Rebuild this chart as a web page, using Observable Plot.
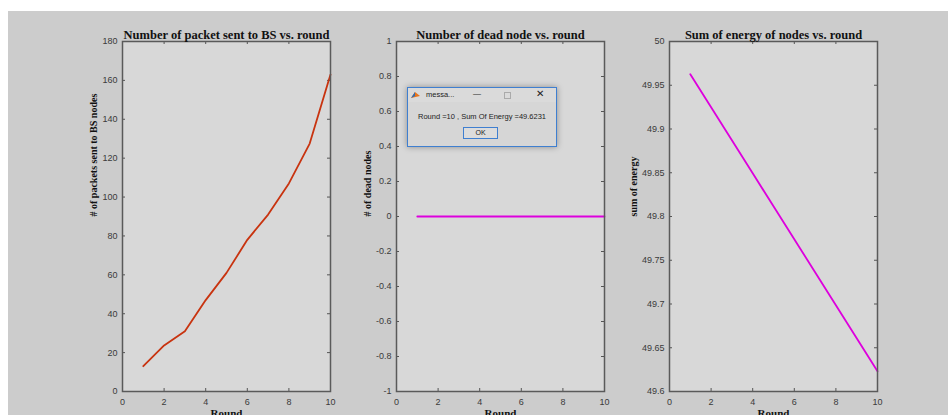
<!DOCTYPE html>
<html>
<head>
<meta charset="utf-8">
<script src="https://cdn.jsdelivr.net/npm/d3@7"></script>
<script src="https://cdn.jsdelivr.net/npm/@observablehq/plot@0.6"></script>
<style>
  html, body { margin: 0; padding: 0; width: 948px; height: 415px; overflow: hidden; background: #ffffff; }
  #fig { position: absolute; left: 8px; top: 11px; width: 940px; height: 404px; background: #cccccc; }
  .panel { position: absolute; top: 11px; }
  #dlg { position: absolute; left: 407px; top: 87px; width: 148px; height: 58px; border: 1px solid #3f7fd0;
         background: #d6d6d6; box-shadow: 0 0 6px rgba(0,0,0,0.35); font-family: "Liberation Sans", Arial, sans-serif; color: #222; }
  #dlg .bar { position: absolute; left: 0; top: 0; width: 148px; height: 14px; background: #dadada; }
  #dlg .ttl { position: absolute; left: 18px; top: 2px; font-size: 7.5px; }
  #dlg .ico { position: absolute; left: 3px; top: 3px; width: 9px; height: 8px; }
  #dlg .min { position: absolute; left: 65px; top: 1px; font-size: 8px; }
  #dlg .max { position: absolute; left: 96px; top: 4px; width: 5px; height: 5px; border: 1px solid #aaa; }
  #dlg .cls { position: absolute; left: 128px; top: 0px; font-size: 10px; }
  #dlg .msg { position: absolute; left: 0; width: 148px; top: 24px; text-align: center; font-size: 7.5px; white-space: nowrap; }
  #dlg .ok { position: absolute; left: 55px; top: 39px; width: 33px; height: 10px; border: 1.5px solid #3f7fd0;
             background: #dcdcdc; font-size: 7px; text-align: center; line-height: 10px; }
</style>
</head>
<body>
<div id="fig"></div>
<div id="charts"></div>
<div id="dlg">
  <div class="bar"></div>
  <svg class="ico" viewBox="0 0 9 8"><polygon points="0,7 4,1 9,5" fill="#e8741c"/><polygon points="0,7 4,1 4,5" fill="#2e6db4"/></svg>
  <div class="ttl">messa...</div>
  <div class="min">—</div>
  <div class="max"></div>
  <div class="cls">✕</div>
  <div class="msg">Round =10 , Sum Of Energy =49.6231</div>
  <div class="ok">OK</div>
</div>
<script>
// ---- data ----
const rounds = [1, 2, 3, 4, 5, 6, 7, 8, 9, 10];
const packetsSent = [13, 23.7, 31, 47, 61, 78, 91, 107, 127.5, 163];
const deadNodes = [0, 0, 0, 0, 0, 0, 0, 0, 0, 0];
const sumEnergy = [49.9625, 49.9248, 49.8871, 49.8494, 49.8117, 49.774, 49.7363, 49.6986, 49.6609, 49.6231];
const xTicks = [0, 2, 4, 6, 8, 10];
const packetTicks = [0, 20, 40, 60, 80, 100, 120, 140, 160, 180];
const deadTicks = [-1, -0.8, -0.6, -0.4, -0.2, 0, 0.2, 0.4, 0.6, 0.8, 1];
const energyTicks = [49.6, 49.65, 49.7, 49.75, 49.8, 49.85, 49.9, 49.95, 50];
const titles = ["Number of packet sent to BS vs. round", "Number of dead node vs. round", "Sum of energy of nodes vs. round"];
const yLabels = ["# of packets sent to BS nodes", "# of dead nodes", "sum of energy"];
const xLabel = "Round";

const FW = 208, FH = 350, MT = 30, MR = 10, SVGH = 420;

function panel({left, marginLeft, values, yDomain, yTicks, color, title, ylabel, ylabelOffset}) {
  const table = rounds.map((r, i) => ({round: r, value: values[i]}));
  const chart = Plot.plot({
    width: marginLeft + FW + MR,
    height: SVGH,
    marginLeft, marginRight: MR, marginTop: MT, marginBottom: SVGH - MT - FH,
    x: {domain: [0, 10]},
    y: {domain: yDomain},
    style: {fontFamily: "'Liberation Sans', Arial, sans-serif", fontSize: "9px", color: "#3a3a3a", background: "transparent", overflow: "visible"},
    marks: [
      Plot.frame({fill: "#d8d8d8"}),
      Plot.axisX(xTicks, {tickSize: 0, tickPadding: 7, tickFormat: d => String(d), label: null}),
      Plot.axisY(yTicks, {tickSize: 0, tickPadding: 5, tickFormat: d => String(d), label: null}),
      Plot.tickX(xTicks, {x: d => d, insetTop: FH - 3, stroke: "#555"}),
      Plot.tickX(xTicks, {x: d => d, insetBottom: FH - 3, stroke: "#555"}),
      Plot.tickY(yTicks, {y: d => d, insetRight: FW - 3, stroke: "#555"}),
      Plot.tickY(yTicks, {y: d => d, insetLeft: FW - 3, stroke: "#555"}),
      Plot.line(table, {x: "round", y: "value", stroke: color, strokeWidth: 1.8}),
      Plot.frame({stroke: "#5a5a5a", strokeWidth: 1.5}),
      Plot.text([title], {frameAnchor: "top", lineAnchor: "bottom", dy: -3, fontWeight: "bold", fontFamily: "'Liberation Serif', serif", fontSize: 12.5, fill: "#111"}),
      Plot.text([ylabel], {frameAnchor: "left", dx: -ylabelOffset, rotate: -90, fontWeight: "bold", fontFamily: "'Liberation Serif', serif", fontSize: 10, fill: "#111"}),
      Plot.text([xLabel], {frameAnchor: "bottom", lineAnchor: "top", dy: 18, fontWeight: "bold", fontFamily: "'Liberation Serif', serif", fontSize: 11, fill: "#111"})
    ]
  });
  chart.classList.add("panel");
  chart.style.position = "absolute";
  chart.style.left = left + "px";
  chart.style.top = "11px";
  document.getElementById("charts").appendChild(chart);
}

panel({left: 8, marginLeft: 114, values: packetsSent, yDomain: [0, 180], yTicks: packetTicks, color: "#c8330f", title: titles[0], ylabel: yLabels[0], ylabelOffset: 29});
panel({left: 340, marginLeft: 56, values: deadNodes, yDomain: [-1, 1], yTicks: deadTicks, color: "#dd00dd", title: titles[1], ylabel: yLabels[1], ylabelOffset: 29});
panel({left: 610, marginLeft: 59, values: sumEnergy, yDomain: [49.6, 50], yTicks: energyTicks, color: "#dd00dd", title: titles[2], ylabel: yLabels[2], ylabelOffset: 36});
</script>
</body>
</html>
